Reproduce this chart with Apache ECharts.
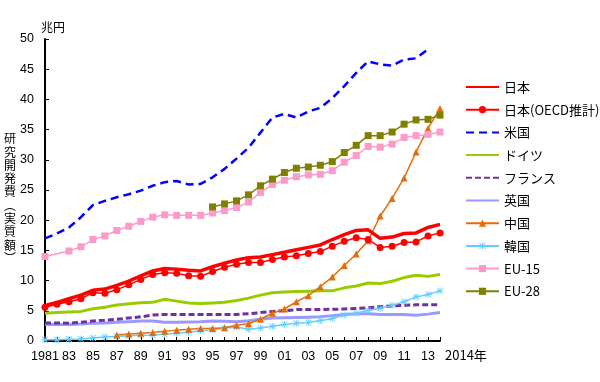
<!DOCTYPE html>
<html><head><meta charset="utf-8">
<script src="https://cdn.jsdelivr.net/npm/echarts@6/dist/echarts.min.js"></script>
<style>html,body{margin:0;padding:0;background:#fff;}#c{width:600px;height:382px;}</style>
</head><body><div id="c"></div>
<script>
const years = [];
for (let y = 1981; y <= 2014; y++) years.push(String(y));
const yTicks = [0,5,10,15,20,25,30,35,40,45,50];

const japan = [5.9,6.4,7.0,7.6,8.4,8.6,9.2,9.9,10.8,11.6,12.0,11.9,11.7,11.6,12.3,12.9,13.4,13.8,13.9,14.3,14.7,15.1,15.5,15.9,16.8,17.6,18.3,18.4,17.0,17.2,17.8,17.9,18.8,19.3];
const japanOECD = [5.6,6.1,6.5,7.0,8.0,7.9,8.5,9.3,10.2,11.0,11.3,11.2,10.8,10.7,11.5,12.2,12.7,13.0,13.0,13.5,13.9,14.1,14.5,14.8,15.7,16.5,17.1,16.8,15.5,15.7,16.3,16.4,17.4,17.9];
const usa = [17.0,17.8,18.8,20.5,22.5,23.2,23.8,24.3,24.9,25.7,26.3,26.5,25.9,26.0,27.1,28.5,30.2,32.0,34.5,37.0,37.6,37.0,38.0,38.6,40.2,42.2,44.4,46.3,45.8,45.6,46.6,46.8,48.3,null];
const germany = [4.6,4.7,4.8,4.9,5.35,5.6,5.95,6.15,6.35,6.4,6.9,6.6,6.3,6.2,6.3,6.4,6.7,7.1,7.6,8.0,8.1,8.2,8.25,8.3,8.3,8.8,9.1,9.6,9.5,9.9,10.5,10.9,10.7,11.0];
const france = [3.0,3.0,2.95,3.1,3.3,3.45,3.6,3.8,4.0,4.3,4.4,4.4,4.4,4.4,4.4,4.4,4.4,4.5,4.7,4.9,5.0,5.2,5.2,5.2,5.25,5.3,5.4,5.5,5.7,5.8,5.9,6.0,6.0,6.0];
const uk = [2.75,2.75,2.75,2.8,2.95,3.0,3.1,3.2,3.3,3.3,3.1,3.1,3.15,3.2,3.3,3.25,3.2,3.35,3.6,3.8,3.85,3.9,3.95,4.0,4.2,4.4,4.5,4.5,4.4,4.4,4.4,4.25,4.45,4.7];
const china = [null,null,null,null,null,null,1.0,1.15,1.3,1.4,1.6,1.8,1.95,2.05,2.05,2.2,2.6,2.85,3.6,4.6,5.3,6.5,7.5,9.0,10.6,12.5,14.4,16.6,20.7,23.6,27.0,31.3,35.2,38.5];
const korea = [0.2,0.2,0.3,0.35,0.5,0.65,0.75,0.85,0.95,1.0,1.1,1.3,1.45,1.7,1.85,2.1,2.3,1.95,2.15,2.45,2.75,2.95,3.05,3.4,3.7,4.3,4.6,5.1,5.4,5.9,6.5,7.3,7.7,8.3];
const eu15 = [14.0,null,14.9,15.6,16.8,17.4,18.3,19.0,19.8,20.5,20.9,20.8,20.8,20.8,21.2,21.6,22.1,23.0,24.6,25.9,26.6,27.2,27.5,27.6,28.2,29.6,30.7,32.2,32.1,32.6,33.7,34.0,34.2,34.6];
const eu28 = [null,null,null,null,null,null,null,null,null,null,null,null,null,null,22.2,22.7,23.2,24.2,25.7,26.8,27.9,28.6,28.8,29.1,29.7,31.2,32.4,34.0,34.0,34.6,35.9,36.6,36.7,37.4];

const names = ['日本','日本(OECD推計)','米国','ドイツ','フランス','英国','中国','韓国','EU-15','EU-28'];
const noMarker = ['日本','米国','ドイツ','フランス','英国'];
const asterisk = 'path://M4.4,0h1.2v10h-1.2z M0,4.4h10v1.2h-10z M1.2,0.4L9.6,8.8L8.8,9.6L0.4,1.2z M8.8,0.4L9.6,1.2L1.2,9.6L0.4,8.8z';

const cjk = '"Noto Sans CJK JP", sans-serif';
const num = '"Liberation Sans", Arial, sans-serif';

function line(name, data, color, width, opts) {
  return Object.assign({
    name: name, type: 'line', data: data, connectNulls: true,
    showSymbol: false, symbol: 'none',
    lineStyle: { color: color, width: width },
    itemStyle: { color: color },
    emphasis: { disabled: true }, animation: false
  }, opts || {});
}

const series = [
  line(names[5], uk, '#9999ff', 3),
  line(names[4], france, '#7030a0', 3, { lineStyle: { color: '#7030a0', width: 3, type: [6, 3] } }),
  line(names[3], germany, '#99cc00', 3),
  line(names[7], korea, '#66ccff', 1.5, { showSymbol: true, symbol: asterisk, symbolSize: 7 }),
  line(names[6], china, '#e46c0a', 1.5, { showSymbol: true, symbol: 'triangle', symbolSize: 7 }),
  line(names[8], eu15, '#ff99cc', 1.5, { showSymbol: true, symbol: 'rect', symbolSize: 7 }),
  line(names[9], eu28, '#808000', 1.5, { showSymbol: true, symbol: 'rect', symbolSize: 7 }),
  line(names[2], usa, '#0000ff', 2.5, { lineStyle: { color: '#0000ff', width: 2.5, type: [8, 5] } }),
  line(names[1], japanOECD, '#ff0000', 1.5, { showSymbol: true, symbol: 'circle', symbolSize: 7 }),
  line(names[0], japan, '#ff0000', 3.5)
];

const chart = echarts.init(document.getElementById('c'), null, { renderer: 'canvas' });
chart.setOption({
  backgroundColor: '#ffffff',
  animation: false,
  grid: { left: 45, right: 160, top: 39, bottom: 41 },
  legend: {
    data: names.map(n => noMarker.indexOf(n) >= 0 ? { name: n, itemStyle: { opacity: 0 } } : n),
    orient: 'vertical', left: 460, top: 75,
    itemWidth: 33, itemHeight: 9, itemGap: 8.7,
    textStyle: { fontFamily: cjk, fontSize: 13, lineHeight: 14, color: '#000' },
    selectedMode: false
  },
  xAxis: {
    type: 'category', data: years, boundaryGap: false,
    axisLine: { lineStyle: { color: '#000', width: 2 } },
    axisTick: { inside: true, length: 4, interval: 0, lineStyle: { color: '#000', width: 1 } },
    axisLabel: {
      interval: 1, margin: 9, color: '#000', fontSize: 12.5, fontFamily: num,
      formatter: (v, i) => i === 0 ? v : v.slice(2)
    },
    splitLine: { show: false }
  },
  yAxis: {
    type: 'value', min: yTicks[0], max: yTicks[yTicks.length - 1], interval: 5,
    name: '兆円', nameLocation: 'end', nameGap: 6,
    nameTextStyle: { fontFamily: cjk, fontSize: 12, color: '#000', align: 'left', padding: [0, 0, 0, -4] },
    axisLine: { show: true, lineStyle: { color: '#000', width: 2 } },
    axisTick: { show: true, inside: true, length: 4, lineStyle: { color: '#000', width: 1 } },
    axisLabel: { margin: 11, color: '#000', fontSize: 12.5, fontFamily: num },
    splitLine: { show: false }
  },
  graphic: [
    { type: 'text', left: 4, top: 132,
      style: { text: '研\n究\n開\n発\n費\n︵\n実\n質\n額\n︶', font: '12px ' + cjk, lineHeight: 13.3, fill: '#000', align: 'center' } },
    { type: 'text', left: 445, top: 349,
      style: { text: '2014年', font: '13px ' + cjk, fill: '#000' } }
  ],
  series: series
});
</script></body></html>
